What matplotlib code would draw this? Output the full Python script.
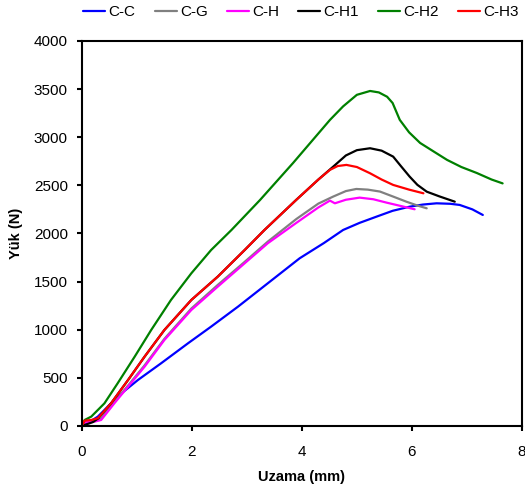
import matplotlib
matplotlib.use("Agg")
import matplotlib.pyplot as plt

plt.rcParams["font.family"] = ["Liberation Sans", "DejaVu Sans"]

# load-elongation curves
cc_x = [0, 0.05, 0.29, 0.53, 0.72, 1.02, 1.44, 1.93, 2.35, 2.84, 3.38, 3.96, 4.4, 4.75, 5.05, 5.36, 5.65, 5.96, 6.2, 6.45, 6.7, 6.87, 7.1, 7.29]
cc_y = [0, 10, 97, 235, 339, 478, 651, 859, 1032, 1240, 1482, 1742, 1900, 2036, 2110, 2175, 2235, 2278, 2300, 2313, 2308, 2296, 2250, 2192]

cg_x = [0, 0.05, 0.23, 0.35, 0.59, 0.84, 1.14, 1.5, 1.99, 2.47, 2.96, 3.38, 3.9, 4.3, 4.57, 4.8, 4.99, 5.2, 5.42, 5.65, 5.9, 6.1, 6.27]
cg_y = [0, 35, 50, 75, 250, 420, 630, 905, 1220, 1465, 1705, 1915, 2150, 2310, 2383, 2440, 2462, 2455, 2435, 2385, 2330, 2290, 2261]

ch_x = [0, 0.05, 0.23, 0.35, 0.59, 0.84, 1.14, 1.5, 1.99, 2.47, 2.96, 3.38, 3.9, 4.3, 4.51, 4.6, 4.8, 5.05, 5.3, 5.54, 5.8, 6.05]
ch_y = [0, 35, 45, 62, 235, 409, 616, 893, 1205, 1447, 1690, 1898, 2110, 2270, 2341, 2313, 2350, 2372, 2355, 2320, 2285, 2251]

ch1_x = [0, 0.1, 0.2, 0.3, 0.53, 0.84, 1.14, 1.5, 1.99, 2.47, 2.96, 3.32, 3.9, 4.3, 4.57, 4.8, 5.0, 5.24, 5.45, 5.66, 5.8, 5.96, 6.1, 6.27, 6.5, 6.78]
ch1_y = [0, 20, 40, 80, 235, 478, 720, 997, 1309, 1551, 1828, 2036, 2350, 2560, 2694, 2810, 2865, 2885, 2860, 2798, 2700, 2590, 2505, 2434, 2385, 2330]

ch2_x = [0, 0.05, 0.17, 0.41, 0.65, 0.96, 1.26, 1.62, 1.99, 2.35, 2.72, 3.24, 3.84, 4.51, 4.75, 5.0, 5.24, 5.4, 5.55, 5.65, 5.78, 5.95, 6.15, 6.4, 6.64, 6.9, 7.18, 7.45, 7.65]
ch2_y = [0, 62, 97, 235, 443, 720, 997, 1309, 1586, 1828, 2036, 2348, 2732, 3179, 3320, 3440, 3480, 3465, 3420, 3355, 3180, 3050, 2940, 2850, 2764, 2690, 2628, 2560, 2520]

ch3_x = [0, 0.05, 0.17, 0.29, 0.53, 0.84, 1.14, 1.5, 1.99, 2.47, 2.96, 3.32, 3.9, 4.3, 4.51, 4.65, 4.81, 5.0, 5.24, 5.45, 5.66, 5.95, 6.21]
ch3_y = [0, 55, 62, 80, 235, 478, 720, 997, 1309, 1551, 1828, 2036, 2350, 2560, 2660, 2700, 2712, 2690, 2625, 2560, 2504, 2455, 2417]

series = [
    ("C-C", cc_x, cc_y, "#0000ff"),
    ("C-G", cg_x, cg_y, "#808080"),
    ("C-H", ch_x, ch_y, "#ff00ff"),
    ("C-H1", ch1_x, ch1_y, "#000000"),
    ("C-H2", ch2_x, ch2_y, "#008000"),
    ("C-H3", ch3_x, ch3_y, "#ff0000"),
]

fig = plt.figure(figsize=(5.25, 4.93), dpi=100)
ax = fig.add_axes([0.156, 0.136, 0.838, 0.781])

for name, xs, ys, col in series:
    ax.plot(xs, ys, color=col, linewidth=1.6, label=name,
            solid_joinstyle="round", solid_capstyle="round")

ax.set_xlim(0, 8)
ax.set_ylim(0, 4000)
ax.set_xticks([0, 2, 4, 6, 8])
ax.set_yticks(range(0, 4001, 500))
for s in ax.spines.values():
    s.set_linewidth(1.5)
ax.tick_params(direction="out", length=3.6, width=1.5, labelsize=11)
ax.tick_params(axis="x", pad=10)
ax.tick_params(axis="y", pad=6.5)
ax.set_xlabel("Uzama (mm)", fontsize=10.5, fontweight="bold", labelpad=8)
ax.set_ylabel("Yük (N)", fontsize=10.5, fontweight="bold", labelpad=8)

fig.legend(loc="center", bbox_to_anchor=(0.573, 0.975), ncol=6, frameon=False,
           fontsize=11, handlelength=1.45, handletextpad=0.2, columnspacing=1.25,
           borderaxespad=0)

fig.savefig("out.png", dpi=100)
